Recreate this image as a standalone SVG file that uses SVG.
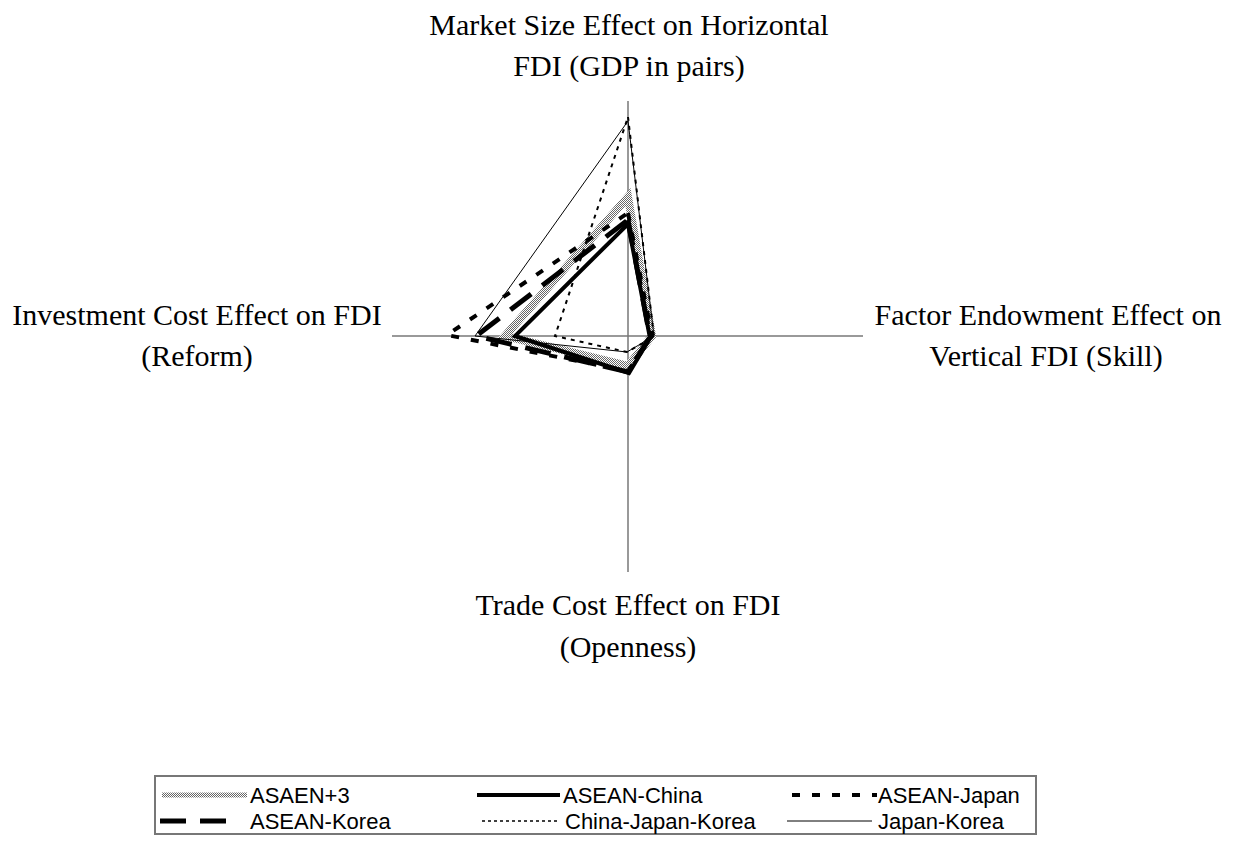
<svg xmlns="http://www.w3.org/2000/svg" width="1239" height="844" viewBox="0 0 1239 844">
<defs>
<pattern id="dots" width="2" height="2" patternUnits="userSpaceOnUse">
<rect width="2" height="2" fill="#ffffff"/>
<rect x="0" y="0" width="1" height="1" fill="#666"/>
<rect x="1" y="1" width="1" height="1" fill="#666"/>
</pattern>
</defs>
<style>
.lbl{font-family:"Liberation Serif","Times New Roman",serif;font-size:30px;fill:#000;text-anchor:middle}
.leg{font-family:"Liberation Sans",Arial,sans-serif;font-size:22px;fill:#000}
.axis{stroke:#777;stroke-width:1.5;fill:none}
.s{fill:none;stroke-linejoin:miter}
.a3{stroke:url(#dots);stroke-width:8}
.ac{stroke:#000;stroke-width:4}
.aj{stroke:#000;stroke-width:4;stroke-dasharray:8 12}
.ak{stroke:#000;stroke-width:5;stroke-dasharray:26 14}
.cjk{stroke:#000;stroke-width:2;stroke-dasharray:4 5}
.jk{stroke:#000;stroke-width:1}
</style>
<rect width="1239" height="844" fill="#fff"/>
<g id="axes">
<line class="axis" x1="628" y1="101" x2="628" y2="572"/>
<line class="axis" x1="392" y1="336" x2="863" y2="336"/>
</g>
<g id="connectors">
<polygon id="s-asean3" class="s a3" points="628,197 652,336 628,366 505,336"/>
<polygon id="s-jk" class="s jk" points="628,121 654,336 627,352 475,336"/>
<polygon id="s-cjk" class="s cjk" points="628,117 654,337 627,352 555,336"/>
<polygon id="s-ak" class="s ak" points="628,220 650,337 628,372 476,336"/>
<polygon id="s-aj" class="s aj" points="628,213 652,336 628,371 447,335"/>
<polygon id="s-ac" class="s ac" points="628,224 650,338 629,373 515,336"/>
</g>
<g id="label-top">
<text class="lbl" x="629" y="35">Market Size Effect on Horizontal</text>
<text class="lbl" x="629" y="76">FDI (GDP in pairs)</text>
</g>
<g id="label-left">
<text class="lbl" x="197" y="325">Investment Cost Effect on FDI</text>
<text class="lbl" x="197" y="366">(Reform)</text>
</g>
<g id="label-right">
<text class="lbl" x="1048" y="325">Factor Endowment Effect on</text>
<text class="lbl" x="1046" y="366">Vertical FDI (Skill)</text>
</g>
<g id="label-bottom">
<text class="lbl" x="628" y="615">Trade Cost Effect on FDI</text>
<text class="lbl" x="628" y="657">(Openness)</text>
</g>
<g id="legend">
<rect x="155" y="776" width="881" height="58" fill="none" stroke="#777" stroke-width="2"/>
<line class="a3" x1="162" y1="795" x2="247" y2="795" style="stroke-width:5"/>
<text class="leg" x="250" y="803">ASAEN+3</text>
<line class="ac" x1="477" y1="795" x2="560" y2="795"/>
<text class="leg" x="563" y="803">ASEAN-China</text>
<line class="aj" x1="792" y1="795" x2="877" y2="795"/>
<text class="leg" x="878" y="803">ASEAN-Japan</text>
<line class="ak" x1="160" y1="821" x2="238" y2="821"/>
<text class="leg" x="250" y="829">ASEAN-Korea</text>
<line class="cjk" x1="482" y1="821" x2="560" y2="821" style="stroke-width:1.5;stroke-dasharray:3 3"/>
<text class="leg" x="565" y="829">China-Japan-Korea</text>
<line class="jk" x1="787" y1="821" x2="872" y2="821"/>
<text class="leg" x="878" y="829">Japan-Korea</text>
</g>
</svg>
